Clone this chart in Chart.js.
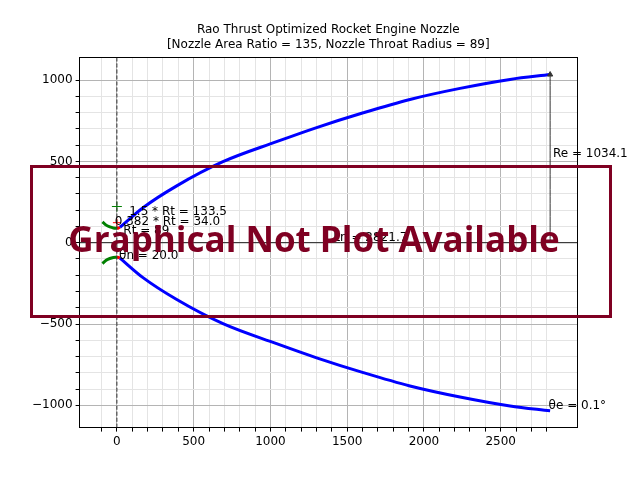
<!DOCTYPE html>
<html>
<head>
<meta charset="utf-8">
<script src="https://cdn.jsdelivr.net/npm/chart.js@4"></script>
<style>
  html, body { margin: 0; padding: 0; background: #fff; }
  #wrap { width: 640px; height: 480px; }
</style>
</head>
<body>
<div id="wrap"><canvas id="nozzle" width="640" height="480"></canvas></div>
<script>
// axis limits
const X_MIN = -243, X_MAX = 2997;
const Y_MIN = -1137, Y_MAX = 1137;

// bell section
const bellX = [20, 170, 387, 691, 1040, 1301, 1605, 1909, 2235, 2561, 2822];
const bellUpperY = [95, 215, 348, 498, 621, 708, 799, 881, 949, 1004, 1034];
const bellLowerY = [-95, -215, -348, -498, -621, -708, -799, -881, -949, -1004, -1034];

// throat entrant arc (1.5 Rt) and exit arc (0.382 Rt)
const entrantX = [-94, -70, -46, -23, 0];
const entrantUpperY = [128, 108, 97, 91, 89];
const entrantLowerY = [-128, -108, -97, -91, -89];
const exitArcX = [0, 10, 20];
const exitArcUpperY = [89, 90.5, 95];
const exitArcLowerY = [-89, -90.5, -95];

// arc centres
const entrantCentre = { x: 0, y: 222.5 };
const exitCentre = { x: 0, y: 123 };

// exit radius dimension
const reX = [2822, 2822];
const reY = [0, 1034];

// annotation texts, anchored at data coordinates (left edge, middle)
const noteText = ['1.5 * Rt = 133.5', '0.382 * Rt = 34.0', 'Rt = 89', 'θn = 20.0', 'Ln = 2821.7', 'Re = 1034.1', 'θe = 0.1°'];
const noteX = [80, -14, 42, 14, 1410, 2840, 2812];
const noteY = [190, 130, 70, -80, 30, 549, -1006];

const pts = (xs, ys) => xs.map((x, i) => ({ x: x, y: ys[i] }));

const notes = {
  id: 'notes',
  afterDatasetsDraw(chart) {
    const c = chart.ctx, sx = chart.scales.x, sy = chart.scales.y;
    c.save();
    c.font = '12px "DejaVu Sans"';
    c.fillStyle = '#000';
    c.textAlign = 'left';
    c.textBaseline = 'middle';
    noteText.forEach((t, i) => {
      c.fillText(t, sx.getPixelForValue(noteX[i]), sy.getPixelForValue(noteY[i]));
    });
    c.restore();
  },
  afterDraw(chart) {
    // "not available" stamp over the plot
    const c = chart.ctx;
    c.save();
    c.strokeStyle = '#7f0022';
    c.lineWidth = 3;
    c.strokeRect(31.5, 166.5, 579, 150);
    c.fillStyle = '#7f0022';
    c.font = 'bold 35px "Open Sans"';
    c.textAlign = 'center';
    c.textBaseline = 'middle';
    c.fillText('Graphical Not Plot Available', 314, 242);
    c.restore();
  }
};

const lineSet = (data, color, width) => ({
  data: data, showLine: true, borderColor: color, backgroundColor: color,
  borderWidth: width, pointRadius: 0, tension: 0.4, cubicInterpolationMode: 'monotone'
});

const axisSide = (pos) => ({
  type: 'linear', position: pos, display: true,
  min: pos === 'top' ? X_MIN : Y_MIN, max: pos === 'top' ? X_MAX : Y_MAX,
  grid: { display: false, drawTicks: false },
  ticks: { display: false },
  border: { color: '#000', width: 1 }
});

new Chart(document.getElementById('nozzle'), {
  type: 'scatter',
  data: {
    datasets: [
      { ...lineSet(pts([0, 0], [Y_MIN, Y_MAX]), '#333', 1), borderDash: [4, 2], tension: 0 },
      { ...lineSet(pts([X_MIN, X_MAX], [0, 0]), '#222', 1), tension: 0 },
      { ...lineSet(pts(reX, reY), '#333', 1), tension: 0,
        pointRadius: [0, 3], pointStyle: 'triangle', backgroundColor: '#333' },
      lineSet(pts(bellX, bellUpperY), '#0000ff', 3),
      lineSet(pts(bellX, bellLowerY), '#0000ff', 3),
      lineSet(pts(entrantX, entrantUpperY), '#008000', 3),
      lineSet(pts(entrantX, entrantLowerY), '#008000', 3),
      lineSet(pts(exitArcX, exitArcUpperY), '#ff0000', 3),
      lineSet(pts(exitArcX, exitArcLowerY), '#ff0000', 3),
      { data: [entrantCentre], pointStyle: 'cross', pointRadius: 5, borderColor: '#008000', borderWidth: 1 },
      { data: [exitCentre], pointStyle: 'cross', pointRadius: 4, borderColor: '#ff0000', borderWidth: 1 }
    ]
  },
  options: {
    responsive: false,
    animation: false,
    devicePixelRatio: 1,
    layout: { padding: { left: 29, right: 63, top: 0, bottom: 28 } },
    plugins: {
      legend: { display: false },
      tooltip: { enabled: false },
      title: {
        display: true,
        fullSize: false,
        text: ['Rao Thrust Optimized Rocket Engine Nozzle', '[Nozzle Area Ratio = 135, Nozzle Throat Radius = 89]'],
        color: '#000',
        font: { family: 'DejaVu Sans', size: 12, weight: 'normal', lineHeight: 1.2 },
        padding: { top: 23, bottom: 6 }
      }
    },
    scales: {
      x: {
        type: 'linear', position: 'bottom', min: X_MIN, max: X_MAX,
        afterBuildTicks: (ax) => { ax.ticks = ax.ticks.filter(t => t.value % 100 === 0); },
        ticks: {
          stepSize: 100, autoSkip: false, maxRotation: 0, padding: 3, color: '#000',
          font: { family: 'DejaVu Sans', size: 12 },
          callback: (v) => v % 500 === 0 ? String(v).replace('-', '\u2212') : ''
        },
        grid: {
          color: (c) => c.tick && c.tick.value % 500 === 0 ? '#b4b4b4' : '#e4e4e4',
          tickColor: '#000', tickLength: 4, lineWidth: 1
        },
        border: { color: '#000', width: 1 }
      },
      y: {
        type: 'linear', position: 'left', min: Y_MIN, max: Y_MAX,
        afterBuildTicks: (ax) => { ax.ticks = ax.ticks.filter(t => t.value % 100 === 0); },
        ticks: {
          stepSize: 100, autoSkip: false, padding: 3, color: '#000',
          font: { family: 'DejaVu Sans', size: 12 },
          callback: (v) => v % 500 === 0 ? String(v).replace('-', '\u2212') : ''
        },
        grid: {
          color: (c) => c.tick && c.tick.value % 500 === 0 ? '#b4b4b4' : '#e4e4e4',
          tickColor: '#000', tickLength: 4, lineWidth: 1
        },
        border: { color: '#000', width: 1 }
      },
      xTop: axisSide('top'),
      yRight: axisSide('right')
    }
  },
  plugins: [notes]
});
</script>
</body>
</html>
